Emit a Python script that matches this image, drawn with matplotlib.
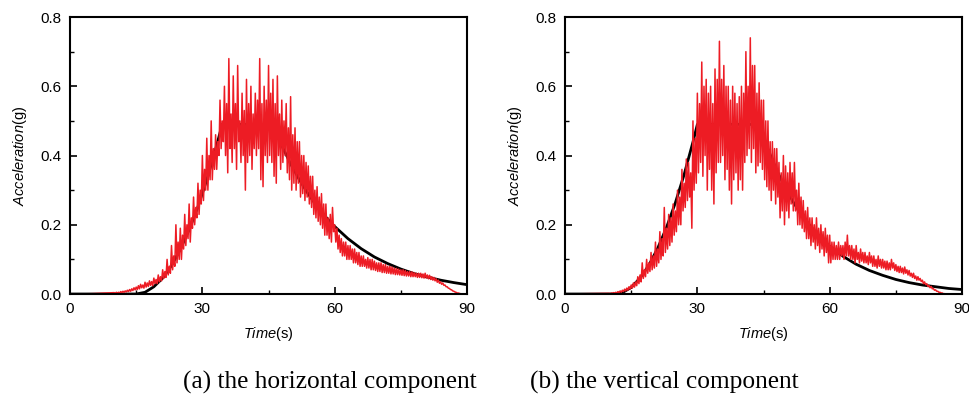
import numpy as np
import matplotlib.pyplot as plt

plt.rcParams['font.family'] = ['Liberation Sans', 'DejaVu Sans']
plt.rcParams['mathtext.fontset'] = 'custom'
plt.rcParams['mathtext.it'] = 'Liberation Sans:italic'
plt.rcParams['mathtext.rm'] = 'Liberation Sans'

# red records: spike tops / troughs read every 0.5 s from 10 s to 90 s
t_rec = np.arange(10, 90.5, 0.5)
hi_h = [0.004, 0.005, 0.005, 0.007, 0.008, 0.009, 0.011, 0.013, 0.015, 0.018,
        0.02, 0.024, 0.028, 0.026, 0.034, 0.032, 0.038, 0.036, 0.046, 0.042,
        0.055, 0.05, 0.07, 0.065, 0.1, 0.08, 0.14, 0.11, 0.2, 0.15,
        0.19, 0.17, 0.23, 0.2, 0.26, 0.22, 0.28, 0.25, 0.32, 0.3,
        0.4, 0.36, 0.45, 0.4, 0.5, 0.42, 0.46, 0.44, 0.56, 0.5,
        0.6, 0.55, 0.68, 0.52, 0.63, 0.55, 0.66, 0.5, 0.58, 0.53,
        0.62, 0.55, 0.6, 0.52, 0.58, 0.56, 0.68, 0.55, 0.6, 0.56,
        0.66, 0.58, 0.62, 0.55, 0.63, 0.52, 0.56, 0.5, 0.55, 0.48,
        0.57, 0.46, 0.48, 0.44, 0.44, 0.4, 0.4, 0.38, 0.37, 0.34,
        0.34, 0.3, 0.31, 0.28, 0.29, 0.26, 0.26, 0.22, 0.23, 0.25,
        0.2, 0.19, 0.17, 0.16, 0.15, 0.15, 0.14, 0.14, 0.13, 0.13,
        0.12, 0.12, 0.11, 0.11, 0.1, 0.105, 0.1, 0.1, 0.095, 0.09,
        0.09, 0.09, 0.085, 0.085, 0.08, 0.08, 0.078, 0.075, 0.074, 0.072,
        0.07, 0.07, 0.068, 0.065, 0.065, 0.064, 0.062, 0.06, 0.06, 0.06,
        0.058, 0.06, 0.055, 0.054, 0.05, 0.048, 0.044, 0.04, 0.035, 0.032,
        0.026, 0.021, 0.016, 0.012, 0.008, 0.005, 0.003, 0.001, 0.0, 0.0,
        0.0]
lo_h = [0.002, 0.003, 0.003, 0.004, 0.005, 0.006, 0.007, 0.008, 0.01, 0.012,
        0.013, 0.015, 0.018, 0.017, 0.02, 0.022, 0.025, 0.024, 0.03, 0.03,
        0.035, 0.038, 0.045, 0.048, 0.055, 0.06, 0.07, 0.08, 0.09, 0.1,
        0.1, 0.13, 0.14, 0.16, 0.15, 0.19, 0.2, 0.22, 0.23, 0.26,
        0.27, 0.3, 0.3, 0.33, 0.33, 0.36, 0.36, 0.4, 0.42, 0.44,
        0.4, 0.35, 0.42, 0.38, 0.42, 0.36, 0.44, 0.38, 0.4, 0.3,
        0.38, 0.4, 0.36, 0.42, 0.4, 0.42, 0.33, 0.31, 0.4, 0.38,
        0.4, 0.38, 0.34, 0.32, 0.4, 0.36, 0.38, 0.4, 0.35, 0.33,
        0.3, 0.32, 0.3, 0.32, 0.28, 0.29, 0.27, 0.28, 0.26, 0.25,
        0.23, 0.22, 0.21, 0.2, 0.19, 0.17, 0.17, 0.16, 0.15, 0.18,
        0.15, 0.13, 0.12, 0.11, 0.11, 0.1, 0.1, 0.1, 0.09, 0.09,
        0.085, 0.08, 0.08, 0.08, 0.075, 0.075, 0.07, 0.07, 0.068, 0.065,
        0.065, 0.062, 0.062, 0.06, 0.06, 0.058, 0.058, 0.056, 0.056, 0.055,
        0.054, 0.053, 0.052, 0.052, 0.05, 0.05, 0.05, 0.048, 0.048, 0.047,
        0.046, 0.046, 0.044, 0.042, 0.04, 0.038, 0.034, 0.031, 0.028, 0.025,
        0.021, 0.017, 0.013, 0.009, 0.006, 0.003, 0.002, 0.0, 0.0, 0.0,
        0.0]
hi_v = [0.002, 0.003, 0.004, 0.005, 0.007, 0.009, 0.011, 0.014, 0.017, 0.021,
        0.026, 0.032, 0.035, 0.05, 0.055, 0.09, 0.07, 0.1, 0.09, 0.12,
        0.11, 0.15, 0.13, 0.18, 0.16, 0.25, 0.19, 0.23, 0.22, 0.26,
        0.24, 0.3, 0.28, 0.36, 0.32, 0.39, 0.38, 0.35, 0.5, 0.45,
        0.58, 0.55, 0.67, 0.6, 0.62, 0.58, 0.6, 0.55, 0.65, 0.62,
        0.73, 0.62, 0.66, 0.6, 0.6, 0.56, 0.6, 0.58, 0.55, 0.57,
        0.6, 0.58, 0.7, 0.6, 0.74, 0.66, 0.66, 0.58, 0.61, 0.56,
        0.56, 0.5, 0.5, 0.44, 0.44, 0.42, 0.42, 0.38, 0.35, 0.4,
        0.37, 0.35, 0.38, 0.35, 0.38, 0.3, 0.32, 0.28, 0.27, 0.24,
        0.25, 0.22, 0.22, 0.2, 0.22, 0.19, 0.2, 0.18, 0.19, 0.17,
        0.17, 0.15, 0.15, 0.14, 0.15, 0.14, 0.14, 0.15, 0.17, 0.14,
        0.14, 0.13, 0.14, 0.12, 0.13, 0.12, 0.12, 0.11, 0.12, 0.11,
        0.11, 0.1, 0.11, 0.1, 0.1, 0.095, 0.095, 0.09, 0.1, 0.09,
        0.085, 0.08, 0.08, 0.075, 0.078, 0.07, 0.068, 0.06, 0.06, 0.052,
        0.05, 0.045, 0.04, 0.035, 0.03, 0.025, 0.022, 0.016, 0.012, 0.008,
        0.005, 0.003, 0.001, 0.0, 0.0, 0.0, 0.0, 0.0, 0.0, 0.0,
        0.0]
lo_v = [0.001, 0.002, 0.002, 0.003, 0.004, 0.005, 0.007, 0.009, 0.011, 0.014,
        0.017, 0.02, 0.024, 0.03, 0.035, 0.045, 0.05, 0.06, 0.065, 0.07,
        0.075, 0.08, 0.09, 0.1, 0.11, 0.12, 0.13, 0.14, 0.15, 0.17,
        0.18, 0.2, 0.2, 0.24, 0.25, 0.27, 0.28, 0.19, 0.3, 0.32,
        0.35, 0.38, 0.34, 0.4, 0.3, 0.36, 0.3, 0.26, 0.35, 0.38,
        0.38, 0.4, 0.33, 0.36, 0.3, 0.26, 0.33, 0.35, 0.3, 0.33,
        0.3, 0.38, 0.4, 0.42, 0.38, 0.42, 0.35, 0.37, 0.38, 0.36,
        0.33, 0.31, 0.3, 0.27, 0.3, 0.26, 0.28, 0.22, 0.24, 0.2,
        0.24, 0.22, 0.26, 0.24, 0.24, 0.2, 0.2, 0.19, 0.18, 0.16,
        0.16, 0.14, 0.15, 0.13, 0.14, 0.12, 0.13, 0.11, 0.12, 0.09,
        0.09, 0.1, 0.1, 0.1, 0.1, 0.11, 0.1, 0.11, 0.11, 0.1,
        0.1, 0.09, 0.1, 0.09, 0.095, 0.09, 0.09, 0.085, 0.09, 0.08,
        0.08, 0.075, 0.08, 0.075, 0.075, 0.07, 0.07, 0.07, 0.075, 0.068,
        0.065, 0.062, 0.062, 0.058, 0.06, 0.055, 0.052, 0.048, 0.045, 0.04,
        0.04, 0.036, 0.03, 0.027, 0.022, 0.018, 0.015, 0.011, 0.008, 0.005,
        0.003, 0.001, 0.0, 0.0, 0.0, 0.0, 0.0, 0.0, 0.0, 0.0,
        0.0]

# black target envelopes
t_env_h = [0, 15, 17, 19, 21, 23, 25, 27, 29, 31, 33, 34.5, 46, 48, 50, 52, 54,
           56, 58, 60, 63, 66, 69, 72, 75, 78, 81, 84, 87, 90]
env_h = [0, 0, 0.005, 0.021, 0.046, 0.082, 0.129, 0.186, 0.252, 0.330, 0.418,
         0.49, 0.49, 0.429, 0.376, 0.330, 0.289, 0.253, 0.222, 0.195, 0.160,
         0.131, 0.107, 0.088, 0.072, 0.059, 0.049, 0.040, 0.033, 0.027]
t_env_v = [0, 11.3, 13, 15, 17, 19, 21, 23, 25, 27, 29, 30, 44, 46, 48, 50, 52,
           54, 56, 58, 60, 63, 66, 69, 72, 75, 78, 81, 84, 87, 90]
env_v = [0, 0, 0.004, 0.019, 0.046, 0.083, 0.132, 0.192, 0.263, 0.345, 0.439,
         0.49, 0.49, 0.418, 0.357, 0.305, 0.260, 0.222, 0.190, 0.162, 0.138,
         0.109, 0.086, 0.068, 0.054, 0.042, 0.033, 0.026, 0.021, 0.016, 0.013]

xticks = [0, 30, 60, 90]
yticks = [0.0, 0.2, 0.4, 0.6, 0.8]
captions = ['(a) the horizontal component', '(b) the vertical component']


def zigzag(hi, lo):
    # spike top at t, trough a quarter second later
    t = np.column_stack([t_rec, t_rec + 0.25]).ravel()[:-1]
    a = np.column_stack([hi, lo]).ravel()[:-1]
    return np.r_[0, 5, t], np.r_[0, 0.001, a]


fig = plt.figure(figsize=(9.7, 3.97), dpi=100)
ax1 = fig.add_axes([0.0722, 0.2594, 0.4093, 0.6977])
ax2 = fig.add_axes([0.5825, 0.2594, 0.4093, 0.6977])

red = '#ED1C24'
for ax, hi, lo, te, env in [(ax1, hi_h, lo_h, t_env_h, env_h),
                            (ax2, hi_v, lo_v, t_env_v, env_v)]:
    tt, aa = zigzag(hi, lo)
    ax.plot(tt, aa, color=red, lw=1.1, zorder=2)
    ax.plot(te, env, color='black', lw=2.0, zorder=1)
    ax.set_xlim(0, 90)
    ax.set_ylim(0, 0.8)
    ax.set_xticks(xticks)
    ax.set_xticks([15, 45, 75], minor=True)
    ax.set_yticks(yticks)
    ax.set_yticklabels(['%.1f' % v for v in yticks])
    ax.set_yticks([0.1, 0.3, 0.5, 0.7], minor=True)
    ax.tick_params(which='major', direction='in', length=5, width=1.2, labelsize=11, pad=6)
    ax.tick_params(which='minor', direction='in', length=3, width=1.0)
    for s in ax.spines.values():
        s.set_linewidth(1.5)
    ax.set_xlabel(r'$\it{Time}$(s)', fontsize=10.5, labelpad=6)
    ax.set_ylabel(r'$\it{Acceleration}$(g)', fontsize=10.5, labelpad=8)

fig.text(0.340, 0.02, captions[0], family='Liberation Serif', fontsize=18.3, ha='center')
fig.text(0.685, 0.02, captions[1], family='Liberation Serif', fontsize=18.3, ha='center')

fig.savefig('out.png', dpi=100)
